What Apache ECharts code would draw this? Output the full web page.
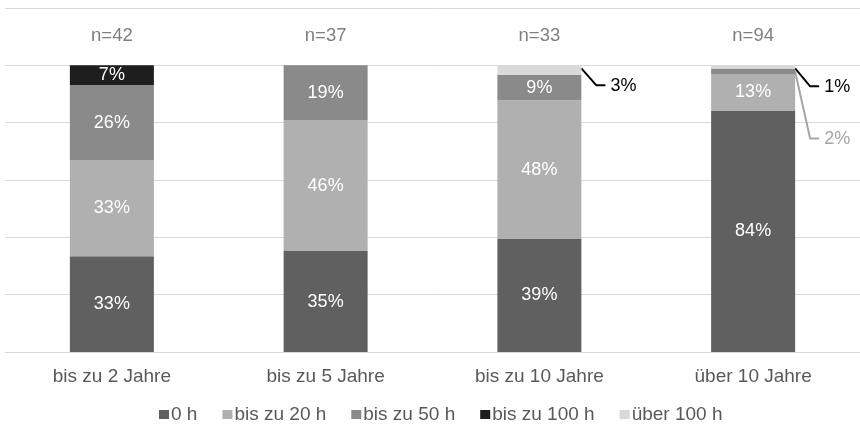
<!DOCTYPE html>
<html><head><meta charset="utf-8">
<script src="https://cdn.jsdelivr.net/npm/echarts@6/dist/echarts.min.js"></script>
<style>html,body{margin:0;padding:0;background:#fff}#c{width:860px;height:425px}</style>
</head><body><div id="c"></div>
<script>
const categories = ['bis zu 2 Jahre', 'bis zu 5 Jahre', 'bis zu 10 Jahre', 'über 10 Jahre'];
const nLabels = ['n=42', 'n=37', 'n=33', 'n=94'];
const seriesNames = ['0 h', 'bis zu 20 h', 'bis zu 50 h', 'bis zu 100 h', 'über 100 h'];
const v0h = [33.4, 35.2, 39.4, 84.1];
const v20h = [33.4, 45.7, 48.4, 12.9];
const v50h = [26.3, 19.1, 8.9, 1.9];
const v100h = [6.9, 0, 0, 0];
const vUeber100h = [0, 0, 3.3, 1.1];

const colors = ['#606060', '#b0b0b0', '#8a8a8a', '#1e1e1e', '#d9d9d9'];
const FONT = '"Liberation Sans", Arial, sans-serif';
const BAR_W = 84;
const chart = echarts.init(document.getElementById('c'), null, {renderer: 'canvas'});

const allData = [v0h, v20h, v50h, v100h, vUeber100h];
const series = allData.map((arr, si) => ({
  name: seriesNames[si], type: 'bar', stack: 'total', barWidth: BAR_W,
  itemStyle: {color: colors[si]},
  label: {
    show: true, position: 'inside', color: '#fff', fontSize: 18, fontFamily: FONT,
    formatter: p => p.value >= 5 ? Math.round(p.value) + '%' : ''
  },
  data: arr
}));

// small segments labelled outside the bar with leader lines: [series index, category index, label colour, label drop in px]
const externals = [[4, 2, '#000000', 20], [4, 3, '#000000', 21], [2, 3, '#a6a6a6', 70]];
const extData = externals.map(([si, ci, col, drop]) => {
  let top = 0;
  for (let k = 0; k <= si; k++) top += allData[k][ci];
  return {value: [ci, top, allData[si][ci]], col: col, drop: drop};
});
series.push({
  type: 'custom', xAxisIndex: 0, yAxisIndex: 0, silent: true,
  data: extData.map(d => d.value),
  renderItem: function (params, api) {
    const d = extData[params.dataIndex];
    const p = api.coord([api.value(0), api.value(1)]);
    const xr = p[0] + BAR_W / 2;
    const y0 = p[1] + 3;
    const yl = p[1] + d.drop;
    return {
      type: 'group', children: [
        {type: 'polyline', shape: {points: [[xr, y0], [xr + 15, yl], [xr + 24, yl]]},
          style: {stroke: d.col, lineWidth: 2, fill: null}},
        {type: 'text', x: xr + 29, y: yl + 1,
          style: {text: Math.round(api.value(2)) + '%', fill: d.col, font: '18px ' + FONT,
            textAlign: 'left', textVerticalAlign: 'middle'}}
      ]
    };
  }
});

chart.setOption({
  animation: false,
  color: colors,
  grid: {left: 5, right: -2, top: 8, bottom: 73},
  legend: {
    top: 400, left: 154, itemWidth: 10, itemHeight: 9, itemGap: 25,
    icon: 'rect',
    textStyle: {color: '#595959', fontSize: 19, fontFamily: FONT, padding: [0, 0, 0, -3]},
    data: seriesNames
  },
  xAxis: [{
    type: 'category', data: categories, position: 'bottom',
    axisLine: {lineStyle: {color: '#d9d9d9', width: 1}}, axisTick: {show: false},
    axisLabel: {color: '#595959', fontSize: 19, fontFamily: FONT, margin: 15}
  }, {
    type: 'category', data: nLabels, position: 'top',
    axisLine: {show: false}, axisTick: {show: false},
    axisLabel: {inside: true, color: '#7f7f7f', fontSize: 18.5, fontFamily: FONT, margin: 18}
  }],
  yAxis: {
    type: 'value', min: 0, max: 120, interval: 20,
    axisLabel: {show: false}, axisLine: {show: false}, axisTick: {show: false},
    splitLine: {lineStyle: {color: '#d9d9d9', width: 1}}
  },
  series: series
});
</script></body></html>
